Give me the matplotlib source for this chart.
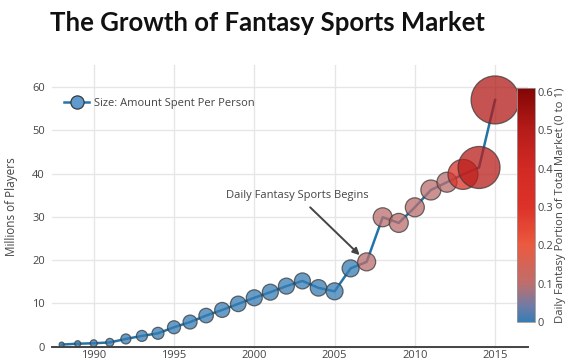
import matplotlib.pyplot as plt
import numpy as np
from matplotlib.colors import LinearSegmentedColormap, Normalize
from matplotlib.lines import Line2D

years = list(range(1988, 2016))
players = [0.5, 0.7, 0.8, 1.0, 1.8, 2.5, 3.1, 4.5, 5.7, 7.2, 8.5, 9.9, 11.3, 12.6,
           14.0, 15.2, 13.6, 12.8, 18.1, 19.6, 29.9, 28.6, 32.2, 36.2, 38.0, 39.8, 41.4, 57.0]
spend = [50, 60, 70, 80, 100, 110, 120, 130, 140, 145, 150, 155, 160, 160,
         160, 160, 165, 170, 170, 180, 190, 190, 190, 200, 200, 300, 420, 480]
dfs_share = [0] * 19 + [0.1, 0.1, 0.1, 0.1, 0.1, 0.1, 0.33, 0.49, 0.51]

cbar_ticks = [0, 0.1, 0.2, 0.3, 0.4, 0.5, 0.6]
cmax = 0.61

# blue -> mauve -> orange-red -> dark red
stops = [(0.0, '#377db4'), (0.04, '#6f7ba6'), (0.1, '#be6e6c'), (0.2, '#eb5a40'),
         (0.3, '#dc3228'), (0.4, '#d22a24'), (0.5, '#b61c19'), (0.61, '#820505')]
cmap = LinearSegmentedColormap.from_list('dfs', [(p / cmax, c) for p, c in stops])
norm = Normalize(0, cmax)

fig = plt.figure(figsize=(5.68, 3.6), dpi=100)
plt.rcParams['font.family'] = ['Open Sans', 'DejaVu Sans']
ax = fig.add_axes([52 / 568, 11.1 / 360, 476 / 568, 283.6 / 360])

ax.plot(years, players, color='#2474a8', lw=1.8, zorder=2)
sizes = [(s * 0.1 * 0.72) ** 2 for s in spend]
ax.scatter(years, players, s=sizes, c=dfs_share, cmap=cmap, norm=norm, alpha=0.75,
           edgecolors='#3a3a3a', linewidths=0.9, zorder=3)

ax.set_xlim(1987.4, 2017.05)
ax.set_ylim(-0.5, 65)
ax.set_xticks([1990, 1995, 2000, 2005, 2010, 2015])
ax.set_yticks([0, 10, 20, 30, 40, 50, 60])
ax.grid(color='#e6e6e6', lw=1)
ax.set_axisbelow(True)
for side in ['top', 'right', 'left']:
    ax.spines[side].set_visible(False)
ax.spines['bottom'].set_position(('data', 0))
ax.spines['bottom'].set_color('#444444')
ax.spines['bottom'].set_linewidth(1.4)
ax.tick_params(length=0, labelsize=8, labelcolor='#444444')
ax.tick_params(axis='x', pad=2)
ax.tick_params(axis='y', pad=5)
ax.set_ylabel('Millions of Players', fontsize=8.5, color='#444444', labelpad=10)

ax.annotate('Daily Fantasy Sports Begins', xy=(2007, 19.6), xytext=(2002.7, 35.0),
            fontsize=8, color='#444444', ha='center', va='center',
            arrowprops=dict(arrowstyle='-|>', color='#444444', lw=1.4,
                            shrinkA=4, shrinkB=7, mutation_scale=10))

handle = Line2D([], [], color='#2474a8', lw=1.8, marker='o', markersize=9.5,
                markerfacecolor='#5f9bd0', markeredgecolor='#3a3a3a', markeredgewidth=0.9)
ax.legend([handle], ['Size: Amount Spent Per Person'], loc='center left',
          bbox_to_anchor=(0.005, 0.867), frameon=False, fontsize=8,
          handlelength=2.2, handletextpad=0.5, labelcolor='#444444')

cax = fig.add_axes([517 / 568, 38 / 360, 18 / 568, 234 / 360])
cb = fig.colorbar(plt.cm.ScalarMappable(norm=norm, cmap=cmap), cax=cax, ticks=cbar_ticks)
cb.ax.set_yticklabels(['0', '0.1', '0.2', '0.3', '0.4', '0.5', '0.6'])
cb.ax.tick_params(length=0, labelsize=8, labelcolor='#444444', pad=2)
cb.outline.set_edgecolor('#999999')
cb.outline.set_linewidth(0.6)
cb.set_label('Daily Fantasy Portion of Total Market (0 to 1)', fontsize=8.2,
             color='#444444', labelpad=1)

fig.text(0.471, 0.937, 'The Growth of Fantasy Sports Market', ha='center', va='center',
         fontsize=18.5, fontweight='bold', family=['Lato', 'DejaVu Sans'], color='#111111')

fig.savefig('out.png', dpi=100)
